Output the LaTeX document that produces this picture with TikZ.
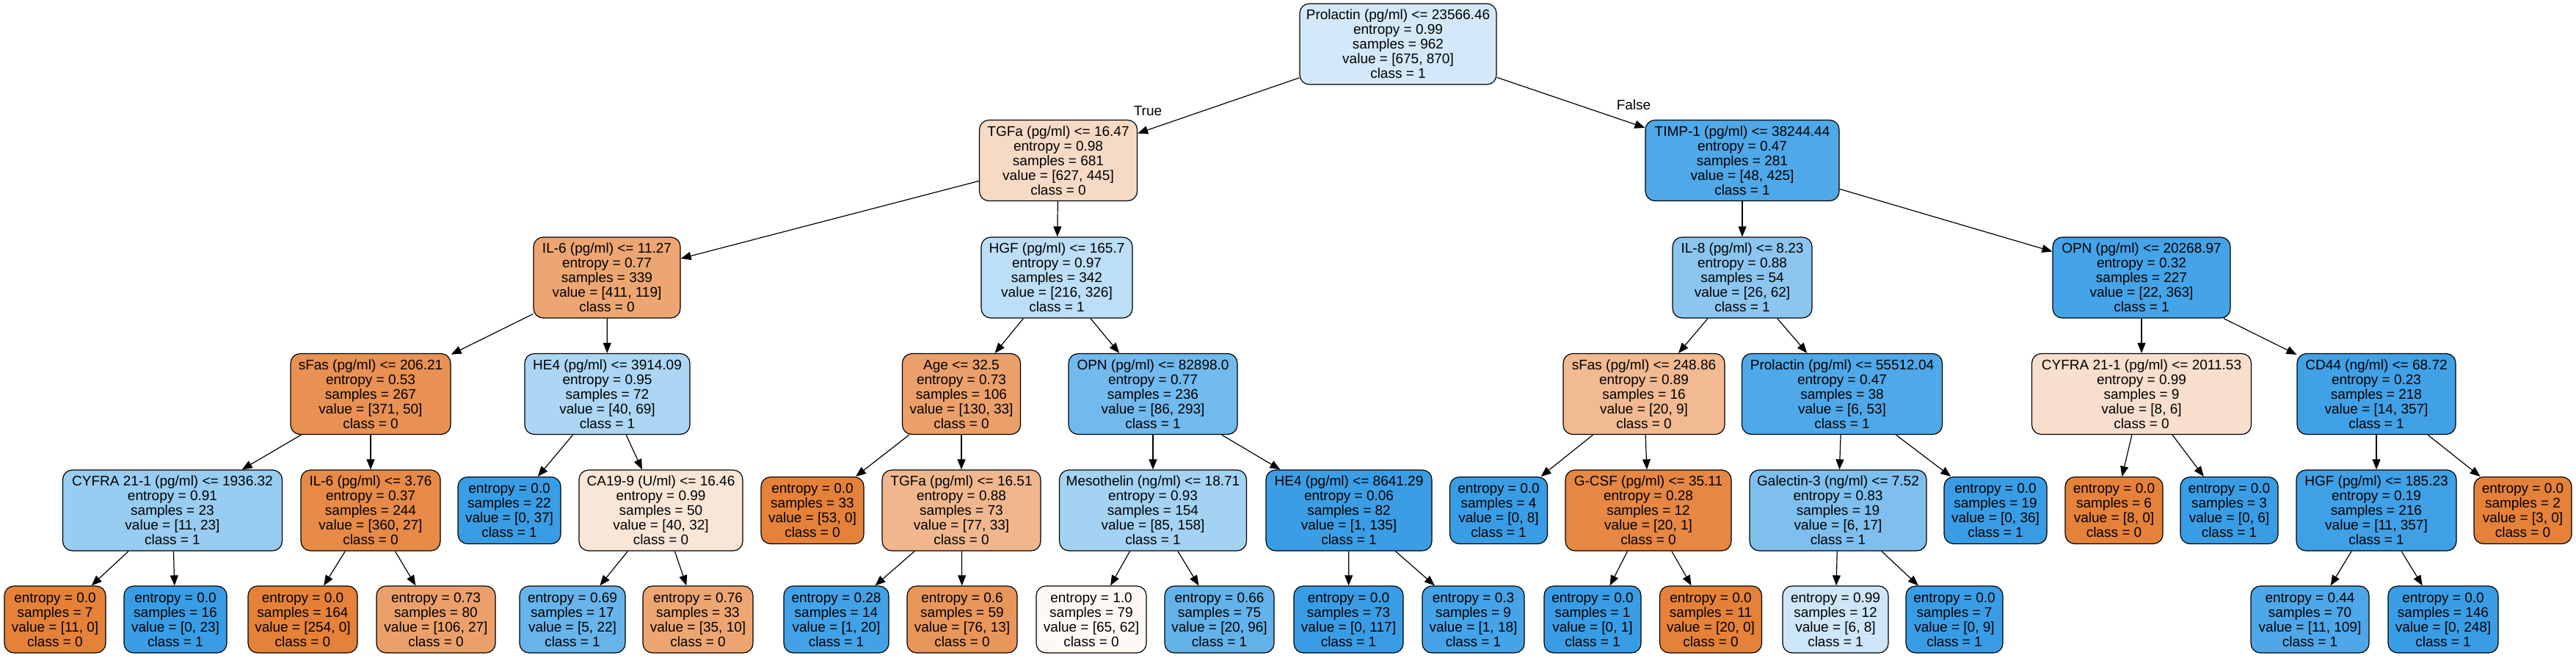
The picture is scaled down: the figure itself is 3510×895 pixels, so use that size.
\documentclass[tikz,border=0pt]{standalone}
\usepackage{fontspec}
\setmainfont{Liberation Sans}
\usetikzlibrary{arrows.meta}
\definecolor{cz}{RGB}{229,129,57}
\definecolor{co}{RGB}{57,157,229}
\newcommand{\nf}{\fontsize{19}{20}\selectfont}
\begin{document}
\begin{tikzpicture}[x=1pt,y=-1pt,
  tn/.style={draw=black, line width=1.2pt, rounded corners=13pt, align=center, inner sep=0pt, font=\nf, minimum height=110pt},
  lf/.style={tn, minimum height=91pt},
  ed/.style={draw=black, line width=1.2pt, -{Triangle[length=14pt,width=11pt]}},
  lb/.style={font=\nf, inner sep=0pt}]
\useasboundingbox (0,0) rectangle (3510,895);
% level 0
\node[tn, minimum width=268pt, fill=co!22!white] (root) at (1905,60) {Prolactin (pg/ml) <= 23566.46\\entropy = 0.99\\samples = 962\\value = [675, 870]\\class = 1};
% level 1
\node[tn, minimum width=215pt, fill=cz!29!white] (tgfa) at (1442,218.5) {TGFa (pg/ml) <= 16.47\\entropy = 0.98\\samples = 681\\value = [627, 445]\\class = 0};
\node[tn, minimum width=264pt, fill=co!89!white] (timp) at (2374,218.5) {TIMP-1 (pg/ml) <= 38244.44\\entropy = 0.47\\samples = 281\\value = [48, 425]\\class = 1};
% level 2
\node[tn, minimum width=200pt, fill=cz!71!white] (ilsa) at (827,378) {IL-6 (pg/ml) <= 11.27\\entropy = 0.77\\samples = 339\\value = [411, 119]\\class = 0};
\node[tn, minimum width=206pt, fill=co!34!white] (hgfa) at (1440,378) {HGF (pg/ml) <= 165.7\\entropy = 0.97\\samples = 342\\value = [216, 326]\\class = 1};
\node[tn, minimum width=190pt, fill=co!58!white] (ile) at (2374,378) {IL-8 (pg/ml) <= 8.23\\entropy = 0.88\\samples = 54\\value = [26, 62]\\class = 1};
\node[tn, minimum width=242pt, fill=co!94!white] (opnb) at (2918,378) {OPN (pg/ml) <= 20268.97\\entropy = 0.32\\samples = 227\\value = [22, 363]\\class = 1};
% level 3
\node[tn, minimum width=218pt, fill=cz!87!white] (sfasa) at (505,536.5) {sFas (pg/ml) <= 206.21\\entropy = 0.53\\samples = 267\\value = [371, 50]\\class = 0};
\node[tn, minimum width=225pt, fill=co!42!white] (hefa) at (827.5,536.5) {HE4 (pg/ml) <= 3914.09\\entropy = 0.95\\samples = 72\\value = [40, 69]\\class = 1};
\node[tn, minimum width=161pt, fill=cz!75!white] (age) at (1310,536.5) {Age <= 32.5\\entropy = 0.73\\samples = 106\\value = [130, 33]\\class = 0};
\node[tn, minimum width=230pt, fill=co!71!white] (opna) at (1571,536.5) {OPN (pg/ml) <= 82898.0\\entropy = 0.77\\samples = 236\\value = [86, 293]\\class = 1};
\node[tn, minimum width=220pt, fill=cz!55!white] (sfasb) at (2240,536.5) {sFas (pg/ml) <= 248.86\\entropy = 0.89\\samples = 16\\value = [20, 9]\\class = 0};
\node[tn, minimum width=273pt, fill=co!89!white] (prolb) at (2510,536.5) {Prolactin (pg/ml) <= 55512.04\\entropy = 0.47\\samples = 38\\value = [6, 53]\\class = 1};
\node[tn, minimum width=299pt, fill=cz!25!white] (cyfb) at (2918,536.5) {CYFRA 21-1 (pg/ml) <= 2011.53\\entropy = 0.99\\samples = 9\\value = [8, 6]\\class = 0};
\node[tn, minimum width=216pt, fill=co!96!white] (cdff) at (3238,536.5) {CD44 (ng/ml) <= 68.72\\entropy = 0.23\\samples = 218\\value = [14, 357]\\class = 1};
% level 4
\node[tn, minimum width=299pt, fill=co!52!white] (cyfa) at (235,695) {CYFRA 21-1 (pg/ml) <= 1936.32\\entropy = 0.91\\samples = 23\\value = [11, 23]\\class = 1};
\node[tn, minimum width=190pt, fill=cz!93!white] (ilsb) at (505,695) {IL-6 (pg/ml) <= 3.76\\entropy = 0.37\\samples = 244\\value = [360, 27]\\class = 0};
\node[lf, minimum width=140pt, fill=co] (lfa) at (694,695) {entropy = 0.0\\samples = 22\\value = [0, 37]\\class = 1};
\node[tn, minimum width=223pt, fill=cz!20!white] (ca) at (900.5,695) {CA19-9 (U/ml) <= 16.46\\entropy = 0.99\\samples = 50\\value = [40, 32]\\class = 0};
\node[lf, minimum width=140pt, fill=cz] (lfb) at (1107,695) {entropy = 0.0\\samples = 33\\value = [53, 0]\\class = 0};
\node[tn, minimum width=216pt, fill=cz!57!white] (tgfb) at (1310,695) {TGFa (pg/ml) <= 16.51\\entropy = 0.88\\samples = 73\\value = [77, 33]\\class = 0};
\node[tn, minimum width=255pt, fill=co!46!white] (meso) at (1571,695) {Mesothelin (ng/ml) <= 18.71\\entropy = 0.93\\samples = 154\\value = [85, 158]\\class = 1};
\node[tn, minimum width=226pt, fill=co!99!white] (hefb) at (1838,695) {HE4 (pg/ml) <= 8641.29\\entropy = 0.06\\samples = 82\\value = [1, 135]\\class = 1};
\node[lf, minimum width=133pt, fill=co] (lfc) at (2042,695) {entropy = 0.0\\samples = 4\\value = [0, 8]\\class = 1};
\node[tn, minimum width=226pt, fill=cz!95!white] (gcsf) at (2246,695) {G-CSF (pg/ml) <= 35.11\\entropy = 0.28\\samples = 12\\value = [20, 1]\\class = 0};
\node[tn, minimum width=241pt, fill=co!65!white] (gal) at (2504.5,695) {Galectin-3 (ng/ml) <= 7.52\\entropy = 0.83\\samples = 19\\value = [6, 17]\\class = 1};
\node[lf, minimum width=140pt, fill=co] (lfd) at (2719,695) {entropy = 0.0\\samples = 19\\value = [0, 36]\\class = 1};
\node[lf, minimum width=133pt, fill=cz] (lfe) at (2880.5,695) {entropy = 0.0\\samples = 6\\value = [8, 0]\\class = 0};
\node[lf, minimum width=133pt, fill=co] (lff) at (3037.5,695) {entropy = 0.0\\samples = 3\\value = [0, 6]\\class = 1};
\node[tn, minimum width=218pt, fill=co!97!white] (hgfb) at (3238,695) {HGF (pg/ml) <= 185.23\\entropy = 0.19\\samples = 216\\value = [11, 357]\\class = 1};
\node[lf, minimum width=133pt, fill=cz] (lfg) at (3437.5,695) {entropy = 0.0\\samples = 2\\value = [3, 0]\\class = 0};
% level 5
\node[lf, minimum width=138pt, fill=cz] (m1) at (75,843.5) {entropy = 0.0\\samples = 7\\value = [11, 0]\\class = 0};
\node[lf, minimum width=140pt, fill=co] (m2) at (239,843.5) {entropy = 0.0\\samples = 16\\value = [0, 23]\\class = 1};
\node[lf, minimum width=149pt, fill=cz] (m3) at (412.5,843.5) {entropy = 0.0\\samples = 164\\value = [254, 0]\\class = 0};
\node[lf, minimum width=162pt, fill=cz!75!white] (m4) at (594,843.5) {entropy = 0.73\\samples = 80\\value = [106, 27]\\class = 0};
\node[lf, minimum width=144pt, fill=co!77!white] (m5) at (780,843.5) {entropy = 0.69\\samples = 17\\value = [5, 22]\\class = 1};
\node[lf, minimum width=150pt, fill=cz!71!white] (m6) at (951,843.5) {entropy = 0.76\\samples = 33\\value = [35, 10]\\class = 0};
\node[lf, minimum width=143pt, fill=co!95!white] (m7) at (1139.5,843.5) {entropy = 0.28\\samples = 14\\value = [1, 20]\\class = 1};
\node[lf, minimum width=150pt, fill=cz!83!white] (m8) at (1311,843.5) {entropy = 0.6\\samples = 59\\value = [76, 13]\\class = 0};
\node[lf, minimum width=150pt, fill=cz!5!white] (m9) at (1487,843.5) {entropy = 1.0\\samples = 79\\value = [65, 62]\\class = 0};
\node[lf, minimum width=149pt, fill=co!79!white] (m10) at (1661.5,843.5) {entropy = 0.66\\samples = 75\\value = [20, 96]\\class = 1};
\node[lf, minimum width=149pt, fill=co] (m11) at (1837.5,843.5) {entropy = 0.0\\samples = 73\\value = [0, 117]\\class = 1};
\node[lf, minimum width=139pt, fill=co!94!white] (m12) at (2007.5,843.5) {entropy = 0.3\\samples = 9\\value = [1, 18]\\class = 1};
\node[lf, minimum width=132pt, fill=co] (m13) at (2170,843.5) {entropy = 0.0\\samples = 1\\value = [0, 1]\\class = 1};
\node[lf, minimum width=139pt, fill=cz] (m14) at (2331,843.5) {entropy = 0.0\\samples = 11\\value = [20, 0]\\class = 0};
\node[lf, minimum width=144pt, fill=co!25!white] (m15) at (2501,843.5) {entropy = 0.99\\samples = 12\\value = [6, 8]\\class = 1};
\node[lf, minimum width=132pt, fill=co] (m16) at (2663,843.5) {entropy = 0.0\\samples = 7\\value = [0, 9]\\class = 1};
\node[lf, minimum width=161pt, fill=co!90!white] (m17) at (3147.5,843.5) {entropy = 0.44\\samples = 70\\value = [11, 109]\\class = 1};
\node[lf, minimum width=150pt, fill=co] (m18) at (3329,843.5) {entropy = 0.0\\samples = 146\\value = [0, 248]\\class = 1};
% edge labels
\node[lb] (lblT) at (1564,151) {True};
\node[lb] (lblF) at (2226,143) {False};
% edges
\draw[ed] (root) -- (tgfa);
\draw[ed] (root) -- (timp);
\draw[ed] (tgfa) -- (ilsa);
\draw[ed] (tgfa) -- (hgfa);
\draw[ed] (timp) -- (ile);
\draw[ed] (timp) -- (opnb);
\draw[ed] (ilsa) -- (sfasa);
\draw[ed] (ilsa) -- (hefa);
\draw[ed] (hgfa) -- (age);
\draw[ed] (hgfa) -- (opna);
\draw[ed] (ile) -- (sfasb);
\draw[ed] (ile) -- (prolb);
\draw[ed] (opnb) -- (cyfb);
\draw[ed] (opnb) -- (cdff);
\draw[ed] (sfasa) -- (cyfa);
\draw[ed] (sfasa) -- (ilsb);
\draw[ed] (hefa) -- (lfa);
\draw[ed] (hefa) -- (ca);
\draw[ed] (age) -- (lfb);
\draw[ed] (age) -- (tgfb);
\draw[ed] (opna) -- (meso);
\draw[ed] (opna) -- (hefb);
\draw[ed] (sfasb) -- (lfc);
\draw[ed] (sfasb) -- (gcsf);
\draw[ed] (prolb) -- (gal);
\draw[ed] (prolb) -- (lfd);
\draw[ed] (cyfb) -- (lfe);
\draw[ed] (cyfb) -- (lff);
\draw[ed] (cdff) -- (hgfb);
\draw[ed] (cdff) -- (lfg);
\draw[ed] (cyfa) -- (m1);
\draw[ed] (cyfa) -- (m2);
\draw[ed] (ilsb) -- (m3);
\draw[ed] (ilsb) -- (m4);
\draw[ed] (ca) -- (m5);
\draw[ed] (ca) -- (m6);
\draw[ed] (tgfb) -- (m7);
\draw[ed] (tgfb) -- (m8);
\draw[ed] (meso) -- (m9);
\draw[ed] (meso) -- (m10);
\draw[ed] (hefb) -- (m11);
\draw[ed] (hefb) -- (m12);
\draw[ed] (gcsf) -- (m13);
\draw[ed] (gcsf) -- (m14);
\draw[ed] (gal) -- (m15);
\draw[ed] (gal) -- (m16);
\draw[ed] (hgfb) -- (m17);
\draw[ed] (hgfb) -- (m18);
\end{tikzpicture}
\end{document}
